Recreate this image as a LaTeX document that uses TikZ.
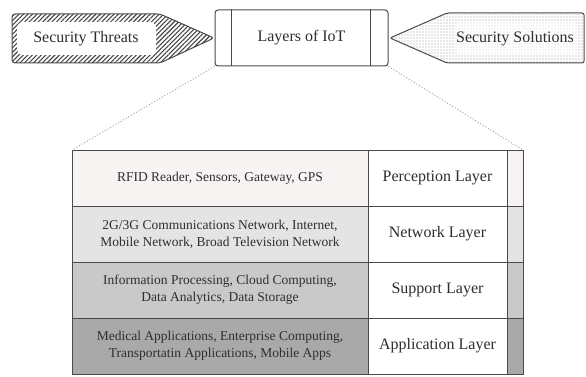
\documentclass[tikz,border=0pt]{standalone}
\usepackage{fontspec}
\setmainfont{Liberation Serif}
\usetikzlibrary{patterns.meta}
\definecolor{txt}{HTML}{2E2E2E}
\definecolor{edge}{HTML}{4A4A4A}
\definecolor{rowA}{HTML}{F7F3F3}
\definecolor{rowB}{HTML}{E4E4E4}
\definecolor{rowC}{HTML}{C9C9C9}
\definecolor{rowD}{HTML}{A9A9A9}
\tikzset{
  cellbox/.style={draw=edge, line width=0.9pt, anchor=north west, inner sep=0pt, outer sep=0pt,
    minimum height=56pt, text=txt, align=center},
  desccell/.style={cellbox, minimum width=296pt, font=\fontsize{13.5}{17}\selectfont},
  namecell/.style={cellbox, minimum width=139pt, fill=white, font=\fontsize{16}{19}\selectfont},
  narrowcell/.style={cellbox, minimum width=16pt},
  toptext/.style={text=txt, font=\fontsize{16}{19}\selectfont, inner sep=0pt},
  zoomline/.style={draw=gray!70, line width=1pt, dotted},
}
\begin{document}
\begin{tikzpicture}[x=1pt,y=-1pt]
\fill[white] (0,0) rectangle (586,377);
\useasboundingbox (0,0) rectangle (586,377);
% Security Threats arrow
\path[draw=edge, line width=1pt, rounded corners=3pt,
  pattern={Lines[angle=45,distance=3.2pt,line width=1.1pt]}, pattern color=gray!55!black]
  (12,14) -- (160,14) -- (214,38) -- (160,63) -- (12,63) -- cycle;
\fill[white, rounded corners=6pt] (17,22) rectangle (156,55);
\node[toptext] (threats) at (86,38.5) {Security Threats};
% Security Solutions arrow
\path[draw=edge, line width=1pt, rounded corners=2pt,
  pattern={Dots[distance=3pt,radius=0.55pt]}, pattern color=gray!80]
  (390,38) -- (447,13) -- (584,13) -- (584,63) -- (447,63) -- cycle;
\fill[white, opacity=0.6, rounded corners=6pt] (455,22) rectangle (578,55);
\node[toptext] (solutions) at (515,38.5) {Security Solutions};
% Layers of IoT box
\node[draw=edge, line width=1pt, rounded corners=3pt, minimum width=173pt, minimum height=56pt,
  inner sep=0pt, fill=white] (layers) at (301.5,38) {};
\draw[edge, line width=1pt] ([xshift=17pt]layers.north west) -- ([xshift=17pt]layers.south west);
\draw[edge, line width=1pt] ([xshift=-18pt]layers.north east) -- ([xshift=-18pt]layers.south east);
\node[toptext] (layerstext) at (layers.center) {Layers of IoT};
% Table rows
\node[desccell, fill=rowA] (d1) at (72,150) {RFID Reader, Sensors, Gateway, GPS};
\node[namecell] (n1) at (d1.north east) {Perception Layer};
\node[narrowcell, fill=rowA] (e1) at (n1.north east) {};
\node[desccell, fill=rowB] (d2) at (d1.south west) {2G/3G Communications Network, Internet,\\Mobile Network, Broad Television Network};
\node[namecell] (n2) at (d2.north east) {Network Layer};
\node[narrowcell, fill=rowB] (e2) at (n2.north east) {};
\node[desccell, fill=rowC] (d3) at (d2.south west) {Information Processing, Cloud Computing,\\Data Analytics, Data Storage};
\node[namecell] (n3) at (d3.north east) {Support Layer};
\node[narrowcell, fill=rowC] (e3) at (n3.north east) {};
\node[desccell, fill=rowD] (d4) at (d3.south west) {Medical Applications, Enterprise Computing,\\Transportatin Applications, Mobile Apps};
\node[namecell] (n4) at (d4.north east) {Application Layer};
\node[narrowcell, fill=rowD] (e4) at (n4.north east) {};
% zoom lines
\draw[zoomline] (layers.south west) -- (d1.north west);
\draw[zoomline] (layers.south east) -- (e1.north east);
\end{tikzpicture}
\end{document}
